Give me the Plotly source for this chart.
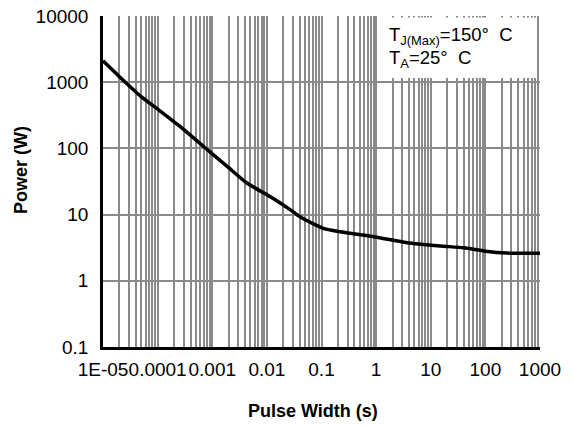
import math
import plotly.graph_objects as go

# Data
pulse_width = [1e-5, 2e-5, 5e-5, 1.1e-4, 2.6e-4, 7e-4, 1.9e-3, 4.3e-3, 0.0116, 0.027,
               0.041, 0.107, 0.22, 0.95, 3.7, 15, 40, 100, 250, 1000]
power = [2100, 1210, 605, 370, 213, 106, 53, 30, 18.6, 11.8,
         9.2, 6.2, 5.5, 4.6, 3.77, 3.36, 3.15, 2.8, 2.62, 2.6]

x_decades = [1e-5, 1e-4, 1e-3, 1e-2, 1e-1, 1, 10, 100, 1000]
x_labels = ["1E-05", "0.0001", "0.001", "0.01", "0.1", "1", "10", "100", "1000"]
y_decades = [0.1, 1, 10, 100, 1000, 10000]
y_labels = ["0.1", "1", "10", "100", "1000", "10000"]
dark_grid_at = [0.1, 1]

legend_lines = ["T<sub>J(Max)</sub>=150°  C", "T<sub>A</sub>=25°  C"]

# minor grid positions (2..9 within each decade)
x_tickvals, x_ticktext = [], []
for i, d in enumerate(x_decades):
    x_tickvals.append(d)
    x_ticktext.append(x_labels[i])
    if i < len(x_decades) - 1:
        for m in range(2, 10):
            x_tickvals.append(d * m)
            x_ticktext.append("")

FONT = "Liberation Sans, Arial, sans-serif"
W, H = 572, 426
L, R, T, B = 103, 32, 16, 79
pw, ph = W - L - R, H - T - B

def px_to_paper_x(px):
    return (px - L) / pw

def px_to_paper_y(py):
    return (H - B - py) / ph

fig = go.Figure()
fig.add_trace(go.Scatter(x=pulse_width, y=power, mode="lines",
                         line=dict(color="black", width=3.5, shape="spline", smoothing=0.6),
                         showlegend=False, hoverinfo="skip"))

fig.update_layout(
    width=W, height=H,
    margin=dict(l=L, r=R, t=T, b=B, autoexpand=False),
    paper_bgcolor="white", plot_bgcolor="white",
    font=dict(family=FONT, size=19, color="black"),
    xaxis=dict(type="log", range=[-5, 3], tickvals=x_tickvals, ticktext=x_ticktext,
               tickangle=0,
               showgrid=True, gridcolor="#8a8a8a", gridwidth=2,
               showline=True, linecolor="black", linewidth=2.5, mirror=False,
               ticks="outside", ticklen=3, tickcolor="rgba(0,0,0,0)", zeroline=False,
               tickfont=dict(size=19)),
    yaxis=dict(type="log", range=[-1, 4], tickvals=y_decades, ticktext=y_labels,
               showgrid=True, gridcolor="#8a8a8a", gridwidth=2,
               showline=True, linecolor="black", linewidth=2.5,
               ticks="outside", ticklen=8, tickcolor="rgba(0,0,0,0)", zeroline=False,
               tickfont=dict(size=19)),
)

shapes = []
# thin dark decade lines
for v in dark_grid_at:
    xp = (math.log10(v) + 5) / 8
    shapes.append(dict(type="line", xref="paper", yref="paper", x0=xp, x1=xp, y0=0, y1=1,
                       line=dict(color="black", width=1), layer="between"))
# white legend box
shapes.append(dict(type="rect", xref="paper", yref="paper",
                   x0=px_to_paper_x(377), x1=px_to_paper_x(537),
                   y0=px_to_paper_y(78), y1=px_to_paper_y(17.5),
                   fillcolor="white", line=dict(width=0), layer="above"))
fig.update_layout(shapes=shapes)

annotations = [
    dict(text=legend_lines[0], xref="paper", yref="paper", x=px_to_paper_x(387),
         y=px_to_paper_y(36), xanchor="left", yanchor="middle", showarrow=False,
         font=dict(size=18.5)),
    dict(text=legend_lines[1], xref="paper", yref="paper", x=px_to_paper_x(387),
         y=px_to_paper_y(59), xanchor="left", yanchor="middle", showarrow=False,
         font=dict(size=18.5)),
    dict(text="<b>Pulse Width (s)</b>", xref="paper", yref="paper", x=px_to_paper_x(313),
         y=px_to_paper_y(411), xanchor="center", yanchor="middle", showarrow=False,
         font=dict(size=18)),
    dict(text="<b>Power (W)</b>", xref="paper", yref="paper", x=px_to_paper_x(21),
         y=px_to_paper_y(170), xanchor="center", yanchor="middle", showarrow=False,
         textangle=-90, font=dict(size=18)),
]
fig.update_layout(annotations=annotations)

fig.write_html("out.html")
